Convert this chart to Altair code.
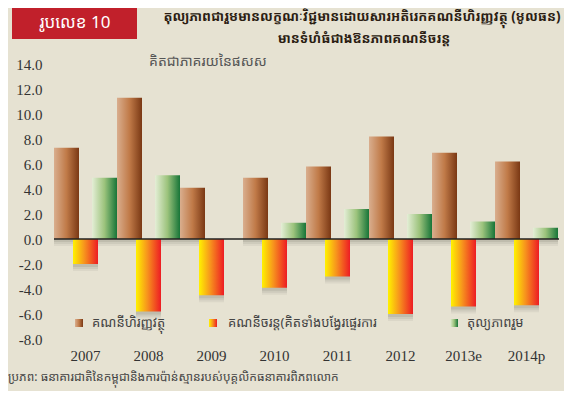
import altair as alt
import pandas as pd

# ---- data ----
years = ["2007", "2008", "2009", "2010", "2011", "2012", "2013e", "2014p"]
financial = [7.3, 11.3, 4.1, 4.9, 5.8, 8.2, 6.9, 6.2]
current = [-2.0, -5.8, -4.5, -3.9, -3.0, -6.0, -5.4, -5.3]
overall = [4.9, 5.1, 0.0, 1.3, 2.4, 2.0, 1.4, 0.9]

series_names = ["financial", "current", "overall"]
legend_labels = ["គណនីហិរញ្ញវត្ថុ", "គណនីចរន្ត(គិតទាំងបង្វែរផ្ទេរការ", "តុល្យភាពរួម"]
y_ticks = [-8, -6, -4, -2, 0, 2, 4, 6, 8, 10, 12, 14]

title_line1 = "តុល្យភាពជារួមមានលក្ខណៈវិជ្ជមានដោយសារអតិរេកគណនីហិរញ្ញវត្ថុ (មូលធន)"
title_line2 = "មានទំហំធំជាងឱនភាពគណនីចរន្ត"
badge_text = "រូបលេខ 10"
unit_text = "គិតជាភាគរយនៃផសស"
source_text = "ប្រភព: ធនាគារជាតិនៃកម្ពុជានិងការប៉ាន់ស្មានរបស់បុគ្គលិកធនាគារពិភពលោក"

rows = []
for i, yr in enumerate(years):
    rows.append({"year": yr, "series": "financial", "value": financial[i]})
    rows.append({"year": yr, "series": "current", "value": current[i]})
    rows.append({"year": yr, "series": "overall", "value": overall[i]})
df = pd.DataFrame(rows)

# ---- layout helpers (page px -> plot px) ----
X0, Y0 = 54.0, 64.0
W, H = 504, 275
def px(v):
    return v - X0
def py(v):
    return v - Y0

BG = "#e6e2d2"
KH = "Noto Sans Khmer, Khmer OS, Noto Sans, sans-serif"
SERIF = "Liberation Serif"

def grad(stops):
    return alt.LinearGradient(
        gradient="linear", x1=0, x2=1, y1=0, y2=0,
        stops=[alt.GradientStop(color=c, offset=o) for o, c in stops],
    )

g_brown = grad([(0, "#d9ae8e"), (0.5, "#c07a48"), (1, "#7a3814")])
g_red = grad([(0, "#fff200"), (0.45, "#f7941d"), (1, "#ed1c24")])
g_green = grad([(0, "#e4eed6"), (0.5, "#9cc37c"), (1, "#177538")])
grads = {"financial": g_brown, "current": g_red, "overall": g_green}

x_enc = alt.X(
    "year:N", sort=years,
    scale=alt.Scale(paddingInner=0, paddingOuter=0),
    axis=alt.Axis(title=None, labelAngle=0, domain=False, ticks=False,
                  labelFont=SERIF, labelFontSize=15, labelColor="#333333",
                  labelPadding=9),
)
xo_enc = alt.XOffset(
    "series:N", sort=series_names,
    scale=alt.Scale(domain=series_names, paddingInner=0, paddingOuter=0.158),
)
y_axis = alt.Axis(title=None, values=y_ticks, grid=False,
                  labelExpr="replace(format(datum.value, '.1f'), '\u2212', '-')",
                  domain=False, ticks=False, labelFont=SERIF, labelFontSize=15,
                  labelColor="#333333", labelPadding=12, labelOverlap=False,
                  labelBound=False, labelFlush=False)
y_enc = alt.Y("value:Q", scale=alt.Scale(domain=[-8, 14], nice=False, zero=True), axis=y_axis)

base = alt.Chart(df)

shadows = []
for off, op in [(7, 0.06), (5, 0.08), (3, 0.10)]:
    shadows.append(
        base.mark_bar(width=25, color="#3a3a30", opacity=op, xOffset=off, yOffset=off)
        .encode(x=x_enc, xOffset=xo_enc, y=y_enc)
    )

bars = []
for s in series_names:
    bars.append(
        base.transform_filter(alt.datum.series == s)
        .mark_bar(width=25, color=grads[s])
        .encode(x=x_enc, xOffset=xo_enc, y=y_enc)
    )

zero = alt.Chart(pd.DataFrame({"value": [0]})).mark_rule(color="#222222", strokeWidth=1.5).encode(
    y=alt.Y("value:Q", axis=y_axis), x=alt.value(px(54)), x2=alt.value(px(559))
)

one = pd.DataFrame({"a": [0]})

badge = alt.Chart(one).mark_rect(color="#c1202b").encode(
    x=alt.value(px(12)), x2=alt.value(px(137)), y=alt.value(py(5)), y2=alt.value(py(39))
)
badge_t = alt.Chart(one).mark_text(
    text=badge_text, color="white", font=KH, fontSize=17, fontWeight="normal",
    align="center", baseline="middle"
).encode(x=alt.value(px(75)), y=alt.value(py(23)))

t1 = alt.Chart(one).mark_text(
    text=title_line1, color="#2b1d12", font=KH, fontSize=13.3, fontWeight="bold",
    align="center", baseline="middle"
).encode(x=alt.value(px(362)), y=alt.value(py(17)))
t2 = alt.Chart(one).mark_text(
    text=title_line2, color="#2b1d12", font=KH, fontSize=13.3, fontWeight="bold",
    align="center", baseline="middle"
).encode(x=alt.value(px(364)), y=alt.value(py(39)))

unit = alt.Chart(one).mark_text(
    text=unit_text, color="#555555", font=KH, fontSize=14, align="left", baseline="middle"
).encode(x=alt.value(px(149)), y=alt.value(py(62)))

source = alt.Chart(one).mark_text(
    text=source_text, color="#444444", font=KH, fontSize=12, align="left", baseline="middle"
).encode(x=alt.value(px(8)), y=alt.value(py(377)))

legend_layers = []
leg_sq_x = [75, 209, 450]
leg_tx_x = [92, 228, 467]
for i, s in enumerate(series_names):
    legend_layers.append(
        alt.Chart(one).mark_rect(color=grads[s]).encode(
            x=alt.value(px(leg_sq_x[i])), x2=alt.value(px(leg_sq_x[i] + 8)),
            y=alt.value(py(319)), y2=alt.value(py(327)),
        )
    )
    legend_layers.append(
        alt.Chart(one).mark_text(
            text=legend_labels[i], color="#444444", font=KH, fontSize=13,
            align="left", baseline="middle"
        ).encode(x=alt.value(px(leg_tx_x[i])), y=alt.value(py(323)))
    )

chart = alt.layer(
    *shadows, *bars, zero, badge, badge_t, t1, t2, unit, source, *legend_layers
).properties(
    width=W, height=H,
    padding={"left": X0 - 8, "top": Y0 - 8, "right": 6, "bottom": 52},
    autosize=alt.AutoSizeParams(type="none"),
    background=BG,
).configure_view(stroke=None).configure_axis(
    labelFont=SERIF, labelFontSize=15, labelColor="#333333"
)

chart.save("out.html", embed_options={"renderer": "svg", "actions": False})
